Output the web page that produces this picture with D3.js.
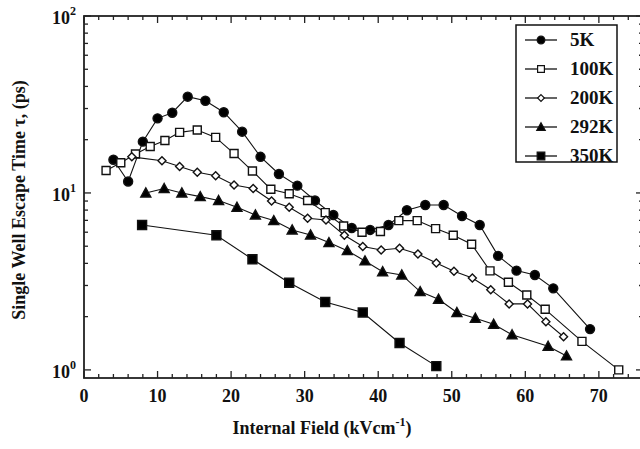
<!DOCTYPE html>
<html>
<head>
<meta charset="utf-8">
<script src="https://cdn.jsdelivr.net/npm/d3@7"></script>
<style>
  body { margin: 0; background: #fff; }
  svg { display: block; font-family: "Liberation Serif", "Times New Roman", serif; font-weight: bold; }
</style>
</head>
<body>
<div id="chart"></div>
<script>
// Escape time (ps) vs internal field (kV/cm)
const field5K = [4.0, 6.0, 8.0, 10.0, 12.0, 14.1, 16.5, 19.0, 21.5, 24.0, 26.5, 29.0, 31.4, 33.9, 36.4, 38.9, 41.4, 43.9, 46.4, 48.9, 51.4, 53.8, 56.3, 58.8, 61.3, 63.8, 68.8];
const tau5K = [15.4, 11.6, 19.5, 26.4, 28.4, 35.0, 33.2, 28.6, 22.2, 16.0, 12.8, 11.0, 9.06, 7.5, 6.34, 6.18, 6.59, 7.98, 8.55, 8.55, 7.41, 6.59, 4.41, 3.64, 3.44, 2.89, 1.70];

const field100K = [3.0, 5.0, 7.0, 9.0, 11.0, 13.0, 15.4, 17.9, 20.4, 22.9, 25.4, 27.9, 30.4, 32.8, 35.3, 37.8, 40.3, 42.8, 45.3, 47.8, 50.2, 52.7, 55.2, 57.7, 60.2, 62.7, 67.7, 72.7];
const tau100K = [13.4, 14.8, 16.6, 18.3, 19.8, 22.0, 22.7, 20.6, 16.7, 13.3, 10.5, 9.9, 9.06, 7.74, 6.51, 6.0, 6.05, 6.98, 6.98, 6.29, 5.77, 5.13, 3.63, 3.13, 2.65, 2.2, 1.45, 1.0];

const field200K = [6.5, 10.6, 13.0, 15.4, 17.9, 20.4, 23.0, 25.5, 27.9, 30.4, 32.9, 35.4, 37.9, 40.4, 42.9, 45.4, 47.9, 50.3, 52.8, 55.3, 57.8, 60.3, 62.8, 65.2];
const tau200K = [16.0, 15.2, 14.1, 13.1, 12.5, 11.1, 10.6, 9.0, 8.3, 7.19, 7.04, 5.77, 4.98, 4.76, 4.87, 4.52, 4.02, 3.61, 3.31, 2.84, 2.36, 2.36, 1.87, 1.54];

const field292K = [8.4, 10.9, 13.3, 15.8, 18.3, 20.8, 23.3, 25.8, 28.3, 30.8, 33.3, 35.8, 38.2, 40.6, 43.2, 45.7, 48.2, 50.7, 53.2, 55.7, 58.2, 63.1, 65.6];
const tau292K = [10.0, 10.6, 10.0, 9.53, 9.06, 8.3, 7.51, 6.98, 6.18, 5.79, 5.24, 4.72, 4.13, 3.59, 3.44, 2.77, 2.51, 2.11, 1.96, 1.81, 1.58, 1.36, 1.20];

const field350K = [7.9, 18.0, 22.9, 27.9, 32.8, 37.9, 42.9, 47.9];
const tau350K = [6.59, 5.77, 4.22, 3.11, 2.42, 2.11, 1.42, 1.05];

const seriesNames = ["5K", "100K", "200K", "292K", "350K"];
const xTicks = [0, 10, 20, 30, 40, 50, 60, 70];
const yDecades = [0, 1, 2];

const series = [
  { name: seriesNames[0], x: field5K, y: tau5K, marker: "circle", fill: "#000" },
  { name: seriesNames[1], x: field100K, y: tau100K, marker: "square", fill: "#fff" },
  { name: seriesNames[2], x: field200K, y: tau200K, marker: "diamond", fill: "#fff" },
  { name: seriesNames[3], x: field292K, y: tau292K, marker: "triangle", fill: "#000" },
  { name: seriesNames[4], x: field350K, y: tau350K, marker: "bigsquare", fill: "#000" }
];

const W = 640, H = 449;
const margin = { top: 16, right: -3, bottom: 71, left: 84 };

const svg = d3.select("#chart").append("svg")
  .attr("width", W).attr("height", H);

const xScale = d3.scaleLinear().domain([0, 76]).range([margin.left, W - margin.right]);
const yScale = d3.scaleLog().domain([0.9, 100]).range([H - margin.bottom, margin.top]);

const x0 = margin.left, x1 = W - margin.right;
const y0 = H - margin.bottom, y1 = margin.top;

function markerPath(type) {
  switch (type) {
    case "circle": return d3.symbol(d3.symbolCircle, 64)();
    case "square": return "M-4,-4H4V4H-4Z";
    case "bigsquare": return "M-4.5,-4.5H4.5V4.5H-4.5Z";
    case "diamond": return "M0,-4L4,0L0,4L-4,0Z";
    case "triangle": return "M0,-5L5,4H-5Z";
  }
}

// frame
svg.append("rect")
  .attr("x", x0).attr("y", y1)
  .attr("width", x1 - x0).attr("height", y0 - y1)
  .attr("fill", "none").attr("stroke", "#222").attr("stroke-width", 1.8);

// x ticks (bottom & top, inward)
const xMinor = d3.range(0, 77, 2);
const tickG = svg.append("g").attr("stroke", "#222").attr("stroke-width", 1.3);
xMinor.forEach(v => {
  const major = v % 10 === 0;
  const len = major ? 7 : 4;
  const px = xScale(v);
  tickG.append("line").attr("x1", px).attr("x2", px).attr("y1", y0).attr("y2", y0 - len);
  tickG.append("line").attr("x1", px).attr("x2", px).attr("y1", y1).attr("y2", y1 + len);
});

// y ticks (left & right, inward)
const yMinor = [];
[1, 10].forEach(base => d3.range(2, 10).forEach(m => yMinor.push(base * m)));
yDecades.forEach(d => {
  const py = yScale(Math.pow(10, d));
  tickG.append("line").attr("x1", x0).attr("x2", x0 + 7).attr("y1", py).attr("y2", py);
  tickG.append("line").attr("x1", x1).attr("x2", x1 - 7).attr("y1", py).attr("y2", py);
});
yMinor.forEach(v => {
  const py = yScale(v);
  tickG.append("line").attr("x1", x0).attr("x2", x0 + 4).attr("y1", py).attr("y2", py);
  tickG.append("line").attr("x1", x1).attr("x2", x1 - 4).attr("y1", py).attr("y2", py);
});

// tick labels
svg.append("g").selectAll("text").data(xTicks).join("text")
  .attr("x", d => xScale(d)).attr("y", y0 + 24)
  .attr("text-anchor", "middle").attr("font-size", 18).attr("fill", "#111")
  .text(d => d);

const yl = svg.append("g").selectAll("text").data(yDecades).join("text")
  .attr("x", x0 - 8).attr("y", d => yScale(Math.pow(10, d)) + 8)
  .attr("text-anchor", "end").attr("font-size", 18).attr("fill", "#111");
yl.append("tspan").text("10");
yl.append("tspan").attr("font-size", 12).attr("dy", -9).text(d => d);

// axis titles
const xt = svg.append("text")
  .attr("x", 322).attr("y", 434)
  .attr("text-anchor", "middle").attr("font-size", 18).attr("fill", "#111");
xt.append("tspan").text("Internal Field (kVcm");
xt.append("tspan").attr("font-size", 12).attr("dy", -8).text("-1");
xt.append("tspan").attr("dy", 8).text(")");

svg.append("text")
  .attr("transform", "translate(25,200) rotate(-90)")
  .attr("text-anchor", "middle").attr("font-size", 18).attr("fill", "#111")
  .text("Single Well Escape Time  \u03C4, (ps)");

// data
const line = d3.line().x(d => xScale(d[0])).y(d => yScale(d[1]));
const plot = svg.append("g");
series.forEach(s => {
  const pts = s.x.map((v, i) => [v, s.y[i]]);
  plot.append("path").datum(pts)
    .attr("fill", "none").attr("stroke", "#111").attr("stroke-width", 1.1)
    .attr("d", line);
  plot.append("g").selectAll("path").data(pts).join("path")
    .attr("transform", d => `translate(${xScale(d[0])},${yScale(d[1])})`)
    .attr("d", markerPath(s.marker))
    .attr("fill", s.fill).attr("stroke", "#111").attr("stroke-width", 1.4);
});

// legend
const lg = svg.append("g");
lg.append("rect").attr("x", 516).attr("y", 25).attr("width", 101).attr("height", 137)
  .attr("fill", "#fff").attr("stroke", "#111").attr("stroke-width", 1.5);
series.forEach((s, i) => {
  const ly = 40 + i * 29;
  lg.append("line").attr("x1", 525).attr("x2", 557).attr("y1", ly).attr("y2", ly)
    .attr("stroke", "#111").attr("stroke-width", 1.3);
  lg.append("path").attr("transform", `translate(541,${ly}) scale(0.85)`)
    .attr("d", markerPath(s.marker))
    .attr("fill", s.fill).attr("stroke", "#111").attr("stroke-width", 1.4);
  lg.append("text").attr("x", 570).attr("y", ly + 6)
    .attr("font-size", 19).attr("fill", "#111").text(s.name);
});
</script>
</body>
</html>
